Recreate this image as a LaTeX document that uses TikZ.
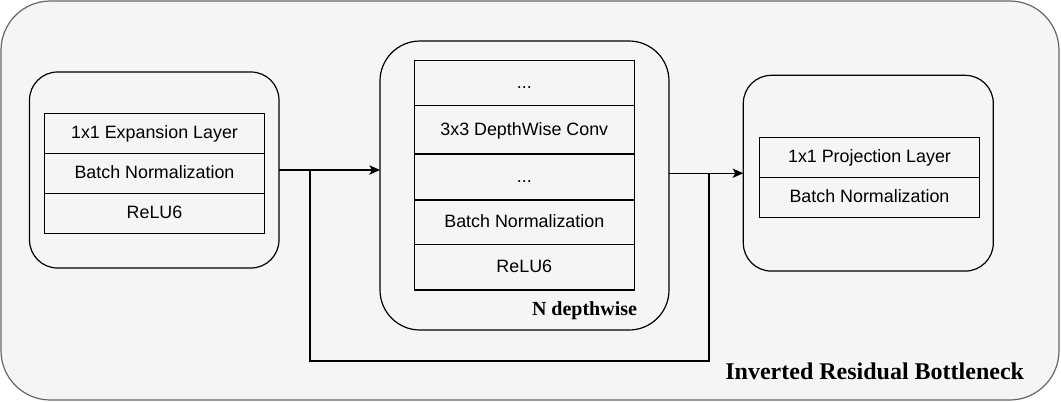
\documentclass[tikz,border=0pt]{standalone}
\usepackage{fontspec}
\setmainfont{Liberation Serif}
\setsansfont{Liberation Sans}
\usetikzlibrary{arrows.meta}

\definecolor{bggray}{HTML}{F5F5F5}
\definecolor{edgegray}{HTML}{666666}

\begin{document}
\begin{tikzpicture}[x=0.75pt, y=-0.75pt, line width=0.9pt,
    every node/.style={inner sep=0pt, outer sep=0pt},
    layer/.style={draw, minimum width=165pt, minimum height=30pt, text height=10.5pt, text depth=2.4pt, font=\sffamily\fontsize{13.4pt}{16pt}\selectfont},
    block/.style={draw, rounded corners=21pt},
    arr/.style={-{Stealth[length=8pt,width=7pt,inset=2pt]}}]
    \useasboundingbox (0,0) rectangle (1061,401);
    % Bottleneck frame
    \node[draw=edgegray, fill=bggray, rounded corners=37pt, minimum width=793.5pt, minimum height=299.25pt] (frame) at (530,200.5) {};
    \node[font=\bfseries\fontsize{18pt}{20pt}\selectfont] (title) at (874.7,371) {Inverted Residual Bottleneck};
    % Expansion block
    \node[block, minimum width=187.1pt, minimum height=147pt] (expand) at (154.25,170) {};
    \node[layer] (exp1) at (154.5,133.5) {1x1 Expansion Layer};
    \node[layer] (exp2) at (154.5,173.5) {Batch Normalization};
    \node[layer] (exp3) at (154.5,213.5) {ReLU6};
    % Depthwise block
    \node[block, rounded corners=30pt, minimum width=216.75pt, minimum height=216.75pt] (depth) at (524.5,185.5) {};
    \node[layer, minimum height=33.75pt] (dw1) at (524.3,83.2) {...};
    \node[layer, minimum height=36.2pt] (dw2) at (524.3,129.85) {3x3 DepthWise Conv};
    \node[layer, minimum height=34.5pt] (dw3) at (524.3,177) {...};
    \node[layer, minimum height=33.2pt] (dw4) at (524.3,222.15) {Batch Normalization};
    \node[layer, minimum height=34.3pt] (dw5) at (524.3,267.15) {ReLU6};
    \node[font=\bfseries\fontsize{15pt}{17pt}\selectfont] (dwlabel) at (584.5,311) {N depthwise};
    % Projection block
    \node[block, minimum width=187.5pt, minimum height=146.8pt] (project) at (868.3,173.2) {};
    \node[layer] (pr1) at (869.5,157.5) {1x1 Projection Layer};
    \node[layer] (pr2) at (869.5,197.2) {Batch Normalization};
    % Connections
    \coordinate (skip) at (310,170);
    \coordinate (bend) at (709,361);
    \draw[arr] (expand.east) -- (expand.east -| depth.west);
    \draw[arr] (depth.east |- project.west) -- (project.west);
    \draw (skip) |- (bend) -- (bend |- project.west);
\end{tikzpicture}
\end{document}
